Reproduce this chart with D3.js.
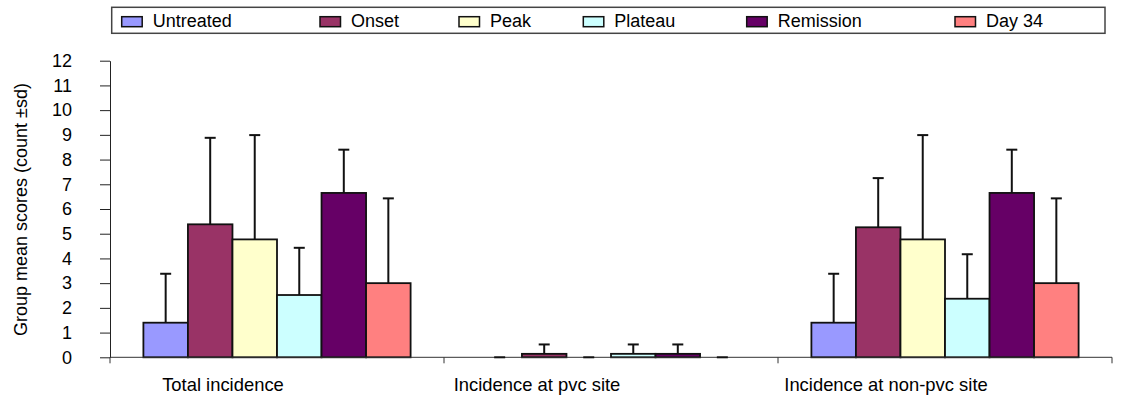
<!DOCTYPE html>
<html>
<head>
<meta charset="utf-8">
<script src="https://cdn.jsdelivr.net/npm/d3@7"></script>
<style>
  html, body { margin: 0; padding: 0; background: #fff; }
  svg { display: block; font-family: "Liberation Sans", Arial, sans-serif; }
</style>
</head>
<body>
<svg id="chart" width="1122" height="398"></svg>
<script>
// Categories along the x axis
const categories = ["Total incidence", "Incidence at pvc site", "Incidence at non-pvc site"];
// Treatment groups (one bar per group in each category)
const groups = ["Untreated", "Onset", "Peak", "Plateau", "Remission", "Day 34"];
const groupColors = ["#9999FF", "#993366", "#FFFFCC", "#CCFFFF", "#660066", "#FF8080"];

// Group means and standard deviations, per category
const meanTotal  = [1.40, 5.38, 4.77, 2.52, 6.65, 3.00];
const sdTotal    = [1.98, 3.50, 4.22, 1.91, 1.75, 3.43];
const meanPvc    = [0.00, 0.14, 0.00, 0.14, 0.14, 0.00];
const sdPvc      = [0.00, 0.38, 0.00, 0.38, 0.38, 0.00];
const meanNonPvc = [1.40, 5.26, 4.77, 2.37, 6.65, 3.00];
const sdNonPvc   = [1.98, 1.99, 4.22, 1.80, 1.75, 3.43];

const yTicks = [0, 1, 2, 3, 4, 5, 6, 7, 8, 9, 10, 11, 12];
const yTitle = "Group mean scores (count ±sd)";

const means = [meanTotal, meanPvc, meanNonPvc];
const sds = [sdTotal, sdPvc, sdNonPvc];
const rows = [];
categories.forEach((c, ci) => {
  groups.forEach((g, gi) => {
    rows.push({ category: c, group: g, mean: means[ci][gi], sd: sds[ci][gi], color: groupColors[gi] });
  });
});

// Layout
const plot = { left: 110, right: 1112, top: 60.7, bottom: 357.3 };
const fontSize = 18;

const svg = d3.select("#chart");

const x = d3.scaleBand().domain(categories).range([plot.left, plot.right]).paddingInner(0).paddingOuter(0);
// 150% gap between clusters: half a gap on each side of a cluster
const xInner = d3.scaleBand().domain(groups).range([0, x.bandwidth()]).paddingInner(0).paddingOuter(0.75);
const y = d3.scaleLinear().domain([0, 12]).range([plot.bottom, plot.top]);
const color = d3.scaleOrdinal().domain(groups).range(groupColors);

// Y axis
const yAxis = svg.append("g")
  .attr("transform", `translate(${plot.left},0)`)
  .call(d3.axisLeft(y).tickValues(yTicks).tickFormat(d3.format("d")).tickSize(10).tickPadding(28).tickSizeOuter(0));
yAxis.select(".domain").attr("stroke", "#222").attr("stroke-width", 1);
yAxis.selectAll(".tick line").attr("stroke", "#222");
yAxis.selectAll(".tick text").attr("font-size", fontSize).attr("fill", "#000")
  .attr("font-family", "'Liberation Sans', Arial, sans-serif");

// Y title
svg.append("text")
  .attr("transform", `translate(26.5,${(plot.top + plot.bottom) / 2 + 0.5}) rotate(-90)`)
  .attr("text-anchor", "middle")
  .attr("font-size", fontSize)
  .text(yTitle);

// Bars
const barG = svg.append("g");
barG.selectAll("rect.bar")
  .data(rows)
  .join("rect")
  .attr("class", "bar")
  .attr("x", d => x(d.category) + xInner(d.group))
  .attr("width", xInner.bandwidth())
  .attr("y", d => y(d.mean))
  .attr("height", d => y(0) - y(d.mean))
  .attr("fill", d => color(d.group))
  .attr("stroke", "#111")
  .attr("stroke-width", 1.8);

// X axis line and category separator ticks
const xAxisG = svg.append("g");
xAxisG.append("line")
  .attr("x1", plot.left).attr("x2", plot.right)
  .attr("y1", y(0)).attr("y2", y(0))
  .attr("stroke", "#333").attr("stroke-width", 1);
const sepTicks = categories.map(c => x(c)).concat([x.range()[1]]);
xAxisG.selectAll("line.sep")
  .data(sepTicks)
  .join("line")
  .attr("class", "sep")
  .attr("x1", d => d).attr("x2", d => d)
  .attr("y1", y(0)).attr("y2", y(0) + 6)
  .attr("stroke", "#333").attr("stroke-width", 1);

// Error bars (upper, +sd)
const capHalf = 5.5;
const errG = svg.append("g").attr("stroke", "#111").attr("stroke-width", 2);
const cx = d => x(d.category) + xInner(d.group) + xInner.bandwidth() / 2;
errG.selectAll("line.stem")
  .data(rows.filter(d => d.sd > 0))
  .join("line")
  .attr("class", "stem")
  .attr("x1", cx).attr("x2", cx)
  .attr("y1", d => y(d.mean)).attr("y2", d => y(d.mean + d.sd));
errG.selectAll("line.cap")
  .data(rows)
  .join("line")
  .attr("class", "cap")
  .attr("x1", d => cx(d) - capHalf).attr("x2", d => cx(d) + capHalf)
  .attr("y1", d => y(d.mean + d.sd)).attr("y2", d => y(d.mean + d.sd));

// Category labels, nudged left of each band centre
const labelShift = [-54, -74, -59];
svg.append("g").selectAll("text")
  .data(categories)
  .join("text")
  .attr("x", (d, i) => x(d) + x.bandwidth() / 2 + labelShift[i])
  .attr("y", y(0) + 34)
  .attr("text-anchor", "middle")
  .attr("font-size", 18.4)
  .text(d => d);

// Legend
const legendBox = { x: 111.7, y: 7.3, w: 993.3, h: 26 };
const legendX = [121.7, 320, 459, 583.3, 746.7, 955];
const legend = svg.append("g");
legend.append("rect")
  .attr("x", legendBox.x).attr("y", legendBox.y)
  .attr("width", legendBox.w).attr("height", legendBox.h)
  .attr("fill", "#fff").attr("stroke", "#444").attr("stroke-width", 1.5);
const items = legend.selectAll("g.item")
  .data(groups)
  .join("g")
  .attr("class", "item")
  .attr("transform", (d, i) => `translate(${legendX[i]},0)`);
items.append("rect")
  .attr("x", 0).attr("y", 16.7)
  .attr("width", 20.5).attr("height", 10)
  .attr("fill", d => color(d))
  .attr("stroke", "#111").attr("stroke-width", 1.5);
items.append("text")
  .attr("x", 31).attr("y", 27.3)
  .attr("font-size", fontSize)
  .text(d => d);
</script>
</body>
</html>
